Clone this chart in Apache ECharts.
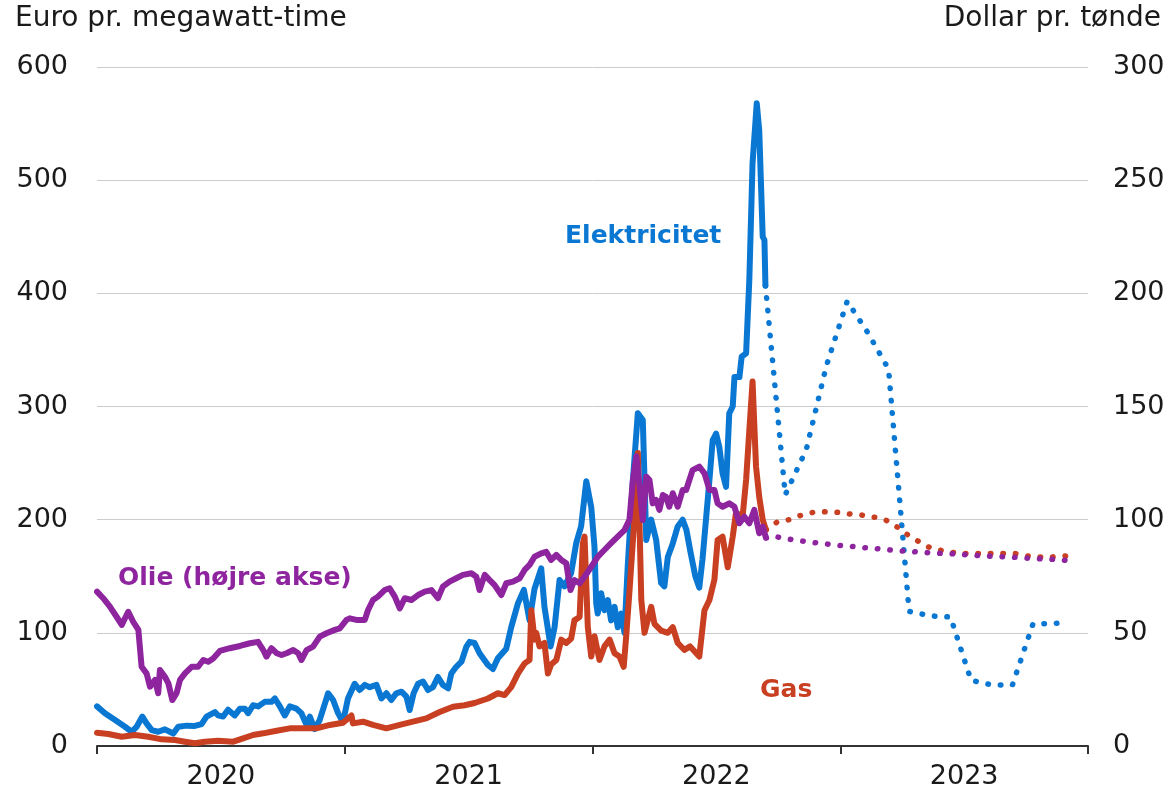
<!DOCTYPE html>
<html>
<head>
<meta charset="utf-8">
<script src="https://cdn.jsdelivr.net/npm/echarts@6/dist/echarts.min.js"></script>
<style>
html,body{margin:0;padding:0;background:#fff}
#main{width:1173px;height:792px}
</style>
</head>
<body>
<div id="main"></div>
<script>
// tid i år (2020.5 = midt i 2020), verdi
var elecHist = [[2020.000,35],[2020.032,29],[2020.073,23],[2020.113,17],[2020.140,12.6],[2020.160,17],[2020.183,26],[2020.200,20],[2020.221,14],[2020.247,12.6],[2020.274,14.7],[2020.308,11],[2020.328,17],[2020.362,18],[2020.395,17.7],[2020.422,19.4],[2020.442,26],[2020.476,30],[2020.489,27],[2020.509,26],[2020.529,32],[2020.556,27],[2020.577,33],[2020.597,33],[2020.610,29],[2020.630,36],[2020.650,35],[2020.677,39],[2020.704,39],[2020.718,42],[2020.738,35],[2020.758,27],[2020.778,35],[2020.805,33],[2020.825,29],[2020.846,18.6],[2020.859,26],[2020.879,15],[2020.899,23],[2020.933,46.6],[2020.953,40.6],[2020.973,29],[2020.993,21],[2021.013,42],[2021.040,55],[2021.060,49.5],[2021.081,54],[2021.101,52],[2021.128,54],[2021.148,42],[2021.168,46.6],[2021.188,40.6],[2021.208,46.6],[2021.229,48],[2021.249,43.6],[2021.262,31.8],[2021.278,46.6],[2021.296,55],[2021.316,57],[2021.336,49.5],[2021.356,52],[2021.376,61],[2021.396,54],[2021.417,51],[2021.430,64],[2021.450,70],[2021.471,74.5],[2021.491,87.7],[2021.504,92],[2021.524,91],[2021.544,82],[2021.578,71.6],[2021.598,68],[2021.618,77.5],[2021.652,86],[2021.672,105],[2021.699,126],[2021.723,138],[2021.746,111],[2021.766,139],[2021.793,157],[2021.806,123],[2021.831,88],[2021.847,105],[2021.867,146.7],[2021.887,141],[2021.914,153],[2021.934,179],[2021.954,194],[2021.975,234],[2021.995,211],[2022.008,176],[2022.015,126],[2022.021,117],[2022.035,135],[2022.048,120],[2022.062,129],[2022.075,111],[2022.089,123],[2022.102,105],[2022.116,117],[2022.129,100],[2022.142,158],[2022.163,235],[2022.183,294],[2022.203,288],[2022.210,235],[2022.217,182],[2022.237,200],[2022.257,182],[2022.277,144],[2022.290,141],[2022.304,167],[2022.324,179],[2022.344,194],[2022.364,200],[2022.379,191],[2022.395,172],[2022.415,150],[2022.431,140],[2022.444,165],[2022.472,235],[2022.485,270],[2022.499,276],[2022.512,264],[2022.525,241],[2022.539,229],[2022.552,294],[2022.566,300],[2022.573,326],[2022.593,326],[2022.602,344],[2022.620,347],[2022.633,412],[2022.646,515],[2022.663,568],[2022.673,544],[2022.687,450],[2022.694,447],[2022.698,407]];
var elecFwd = [[2022.698,407],[2022.778,222],[2022.863,262],[2022.944,336],[2023.028,393],[2023.112,365],[2023.195,333],[2023.278,119],[2023.362,115],[2023.445,114],[2023.528,58],[2023.612,54],[2023.695,54],[2023.778,108],[2023.862,108],[2023.915,110]];

var gasHist = [[2020.000,11.8],[2020.046,10.6],[2020.100,8.2],[2020.153,9.7],[2020.207,8.2],[2020.261,5.9],[2020.315,5.3],[2020.355,3.8],[2020.395,2.4],[2020.435,3.8],[2020.489,4.7],[2020.550,3.8],[2020.590,6.8],[2020.630,9.7],[2020.671,11.2],[2020.725,13.5],[2020.778,15.6],[2020.832,15.6],[2020.886,15.6],[2020.940,18.6],[2020.993,20.6],[2021.027,27],[2021.033,20],[2021.074,21.5],[2021.114,18.6],[2021.168,15.6],[2021.222,18.6],[2021.275,21.5],[2021.329,24.4],[2021.383,30],[2021.437,34.7],[2021.484,36],[2021.524,38],[2021.578,42],[2021.618,46.6],[2021.645,45],[2021.672,52],[2021.699,64],[2021.726,73],[2021.746,76],[2021.753,120],[2021.766,94],[2021.773,100],[2021.786,88],[2021.806,91],[2021.820,64],[2021.833,72],[2021.854,76],[2021.874,94],[2021.894,91],[2021.914,95],[2021.927,111],[2021.948,114],[2021.961,179],[2021.968,185],[2021.981,105],[2021.995,79],[2022.008,97],[2022.028,76],[2022.048,88],[2022.069,94],[2022.089,82],[2022.109,79],[2022.126,70],[2022.136,97],[2022.149,136],[2022.167,194],[2022.183,259],[2022.197,129],[2022.210,100],[2022.237,123],[2022.250,108],[2022.277,102],[2022.304,100],[2022.324,105],[2022.344,91],[2022.371,85],[2022.394,88],[2022.431,79],[2022.452,120],[2022.472,129],[2022.492,147],[2022.505,182],[2022.525,185],[2022.546,158],[2022.566,185],[2022.579,206],[2022.606,203],[2022.620,235],[2022.633,279],[2022.646,322],[2022.660,247],[2022.673,220],[2022.687,200],[2022.700,191]];
var gasFwd = [[2022.700,191],[2022.746,198],[2022.794,200],[2022.843,204],[2022.891,206.5],[2022.940,207],[2022.992,206.5],[2023.040,205],[2023.089,204],[2023.141,202],[2023.185,199.4],[2023.230,193.5],[2023.270,187],[2023.315,181],[2023.355,176],[2023.403,173],[2023.452,171],[2023.504,170],[2023.605,170],[2023.706,170],[2023.754,168],[2023.802,167],[2023.851,167],[2023.915,168]];

var oilHist = [[2020.000,68.2],[2020.025,65.3],[2020.052,61.6],[2020.079,57.1],[2020.100,53.5],[2020.126,59.3],[2020.146,54.9],[2020.167,51.3],[2020.180,35],[2020.200,32.1],[2020.214,26.2],[2020.234,29.2],[2020.247,23.3],[2020.254,33.6],[2020.274,30.6],[2020.288,27.7],[2020.304,20.3],[2020.321,23.3],[2020.335,29.2],[2020.355,32.1],[2020.382,35],[2020.408,35],[2020.429,38],[2020.449,37.2],[2020.469,38.7],[2020.496,42],[2020.536,43.2],[2020.577,44.2],[2020.617,45.4],[2020.650,46],[2020.671,42.4],[2020.684,39.5],[2020.704,43.2],[2020.725,41],[2020.745,40.2],[2020.765,41],[2020.792,42.4],[2020.812,41],[2020.825,38],[2020.846,42.4],[2020.872,43.9],[2020.899,48.3],[2020.926,49.8],[2020.960,51.3],[2020.980,52],[2021.007,55.7],[2021.020,56.4],[2021.047,55.7],[2021.081,55.7],[2021.094,60.1],[2021.114,64.5],[2021.134,66],[2021.161,68.9],[2021.181,69.7],[2021.202,66],[2021.222,60.8],[2021.242,65.3],[2021.269,64.5],[2021.296,66.7],[2021.323,68.2],[2021.350,68.9],[2021.376,65.3],[2021.396,70.4],[2021.423,72.6],[2021.450,74.1],[2021.477,75.6],[2021.511,76.3],[2021.531,74.8],[2021.544,68.9],[2021.565,75.6],[2021.585,73.3],[2021.605,71.1],[2021.632,66.7],[2021.652,71.9],[2021.679,72.6],[2021.706,74.1],[2021.726,77.8],[2021.746,80],[2021.766,83.6],[2021.793,85.1],[2021.813,85.8],[2021.833,82.2],[2021.854,84.4],[2021.874,82.2],[2021.894,80.7],[2021.911,68.9],[2021.927,73.3],[2021.948,71.9],[2021.968,74.8],[2021.995,79.2],[2022.021,83.6],[2022.048,86.6],[2022.075,89.6],[2022.102,92.5],[2022.129,95.4],[2022.149,99.9],[2022.163,117.5],[2022.177,128],[2022.190,114.6],[2022.203,99.9],[2022.217,119],[2022.230,117.5],[2022.243,107.2],[2022.257,108.7],[2022.270,104.3],[2022.284,110.9],[2022.297,110.1],[2022.310,105.7],[2022.324,111.7],[2022.344,105.7],[2022.364,113.1],[2022.378,113.1],[2022.404,121.9],[2022.431,123.4],[2022.452,120.5],[2022.472,113.1],[2022.492,113.1],[2022.505,107.2],[2022.525,105.7],[2022.552,107.2],[2022.573,105.7],[2022.593,98.4],[2022.613,101.3],[2022.633,98.4],[2022.653,104.3],[2022.673,94],[2022.687,96.9],[2022.700,92]];
var oilFwd = [[2022.700,92],[2022.726,92.8],[2022.774,91.7],[2022.875,90.1],[2022.972,88.9],[2023.073,87.9],[2023.173,86.9],[2023.270,86],[2023.371,85.3],[2023.472,84.8],[2023.569,84],[2023.669,83.6],[2023.770,82.9],[2023.871,82.4],[2023.923,81.9]];

var leftTicks = [0, 100, 200, 300, 400, 500, 600];
var rightTicks = [0, 50, 100, 150, 200, 250, 300];
var years = [2020, 2021, 2022, 2023];

var blue = '#0a78d2', red = '#c83f22', purple = '#8e259f';
var font = 'DejaVu Sans';
var ink = '#1a1a1a';

function line(data, color, yIdx, dotted, z) {
  return {
    type: 'line', data: data, yAxisIndex: yIdx, xAxisIndex: 0,
    showSymbol: false, symbol: 'none', silent: true, z: z,
    lineStyle: dotted
      ? { color: color, width: 5.5, type: [0.5, 12], cap: 'round' }
      : { color: color, width: 6, cap: 'round', join: 'round' }
  };
}

function label(text, x, y, color, opts) {
  return {
    type: 'text', x: x, y: y, silent: true,
    style: Object.assign({
      text: text, fontSize: 25, fontWeight: 'bold', fontFamily: font,
      fill: color, verticalAlign: 'middle'
    }, opts || {})
  };
}

var myChart = echarts.init(document.getElementById('main'));
var option = {
  animation: false,
  grid: { left: 97, right: 85, top: 67, bottom: 46, containLabel: false },
  xAxis: [{
    type: 'value', min: years[0], max: years[years.length - 1] + 1, interval: 1,
    axisLine: { lineStyle: { color: '#333', width: 2 } },
    axisTick: { show: true, length: 8, lineStyle: { color: '#333', width: 2 } },
    axisLabel: { show: false },
    splitLine: { show: false }
  }, {
    type: 'value', min: years[0], max: years[years.length - 1] + 1, interval: 0.5,
    position: 'bottom',
    axisLine: { show: false }, axisTick: { show: false }, splitLine: { show: false },
    axisLabel: {
      margin: 17, fontSize: 27, color: ink, fontFamily: font,
      formatter: function (v) { return (v % 1 === 0.5) ? String(Math.floor(v)) : ''; }
    }
  }],
  yAxis: [{
    type: 'value', min: leftTicks[0], max: leftTicks[leftTicks.length - 1], interval: 100,
    axisLine: { show: false }, axisTick: { show: false },
    axisLabel: { margin: 29, fontSize: 27, color: ink, fontFamily: font },
    splitLine: { lineStyle: { color: '#cccccc', width: 1 } }
  }, {
    type: 'value', position: 'right', min: rightTicks[0], max: rightTicks[rightTicks.length - 1], interval: 50,
    axisLine: { show: false }, axisTick: { show: false },
    axisLabel: { margin: 25, fontSize: 27, color: ink, fontFamily: font },
    splitLine: { show: false }
  }],
  graphic: [
    label('Euro pr. megawatt-time', 15, 19, ink, { fontWeight: 'normal', fontSize: 28 }),
    label('Dollar pr. tønde', 1161, 19, ink, { fontWeight: 'normal', fontSize: 28, align: 'right' }),
    label('Elektricitet', 565, 236, blue),
    label('Olie (højre akse)', 118, 578, purple),
    label('Gas', 760, 690, red)
  ],
  series: [
    line(elecHist, blue, 0, false, 2),
    line(elecFwd, blue, 0, true, 2),
    line(gasHist, red, 0, false, 3),
    line(gasFwd, red, 0, true, 3),
    line(oilHist, purple, 1, false, 4),
    line(oilFwd, purple, 1, true, 4)
  ]
};
myChart.setOption(option);
</script>
</body>
</html>
